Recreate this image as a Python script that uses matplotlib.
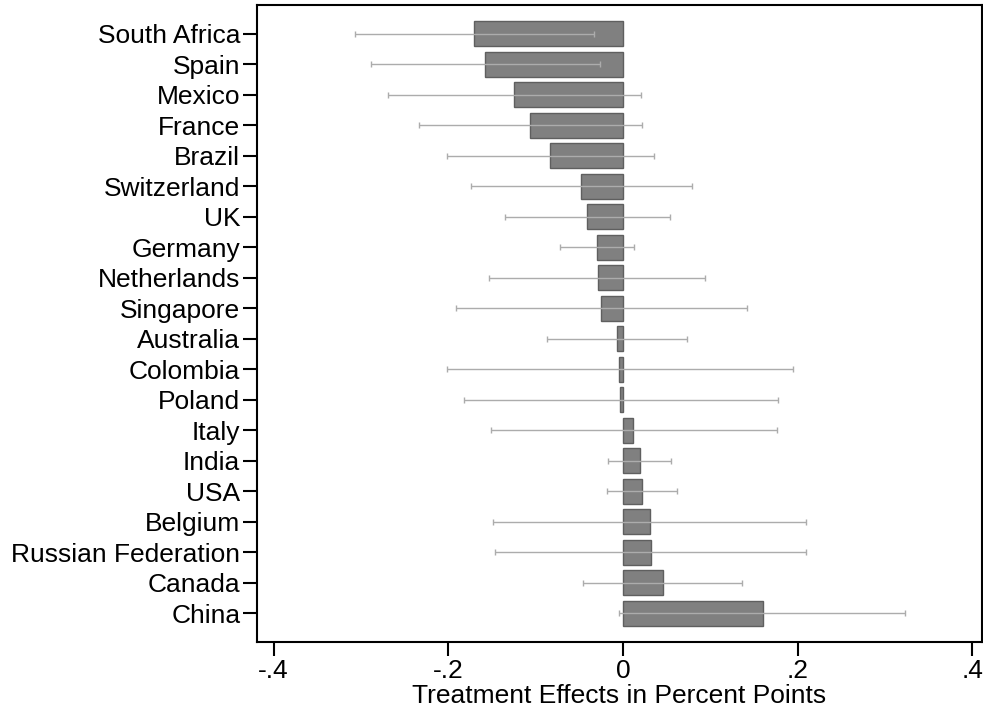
import matplotlib
matplotlib.use("Agg")
from matplotlib import pyplot as plt
import numpy as np

plt.rcParams['font.family'] = ['Liberation Sans', 'DejaVu Sans']

countries = ["South Africa", "Spain", "Mexico", "France", "Brazil", "Switzerland",
             "UK", "Germany", "Netherlands", "Singapore", "Australia", "Colombia",
             "Poland", "Italy", "India", "USA", "Belgium", "Russian Federation",
             "Canada", "China"]
effects = [-0.170, -0.158, -0.125, -0.106, -0.083, -0.048, -0.041, -0.030, -0.029,
           -0.025, -0.007, -0.004, -0.003, 0.012, 0.020, 0.022, 0.031, 0.032,
           0.046, 0.160]
ci_low = [-0.307, -0.289, -0.269, -0.233, -0.201, -0.174, -0.135, -0.072, -0.153,
          -0.191, -0.087, -0.202, -0.182, -0.151, -0.017, -0.018, -0.149, -0.147,
          -0.046, -0.004]
ci_high = [-0.033, -0.026, 0.021, 0.022, 0.035, 0.079, 0.054, 0.013, 0.094,
           0.142, 0.073, 0.195, 0.178, 0.176, 0.055, 0.062, 0.210, 0.210,
           0.136, 0.323]
xticks = [-0.4, -0.2, 0, 0.2, 0.4]
xticklabels = ["-.4", "-.2", "0", ".2", ".4"]

y = np.arange(len(countries))
eff = np.array(effects)
err = [eff - np.array(ci_low), np.array(ci_high) - eff]

fig = plt.figure(figsize=(9.83, 7.13), dpi=100)
ax = fig.add_axes([0.2614, 0.0996, 0.7376, 0.8934])

ax.barh(y, eff, height=0.82, color='#808080', edgecolor='#5f5f5f', linewidth=1, zorder=2)
ax.errorbar(eff, y, xerr=err, fmt='none', ecolor='#acacac', elinewidth=1,
            capsize=2.5, capthick=1, zorder=3)

ax.set_xlim(-0.419, 0.411)
ax.set_ylim(19.95, -0.95)
ax.set_yticks(y)
ax.set_yticklabels(countries, fontsize=19)
ax.set_xticks(xticks)
ax.set_xticklabels(xticklabels, fontsize=19)
ax.set_xlabel("Treatment Effects in Percent Points", fontsize=19, labelpad=1)
ax.tick_params(axis='both', length=10, width=1.5, direction='out', pad=2)
for s in ax.spines.values():
    s.set_linewidth(1.5)

fig.savefig("out.png", dpi=100)
